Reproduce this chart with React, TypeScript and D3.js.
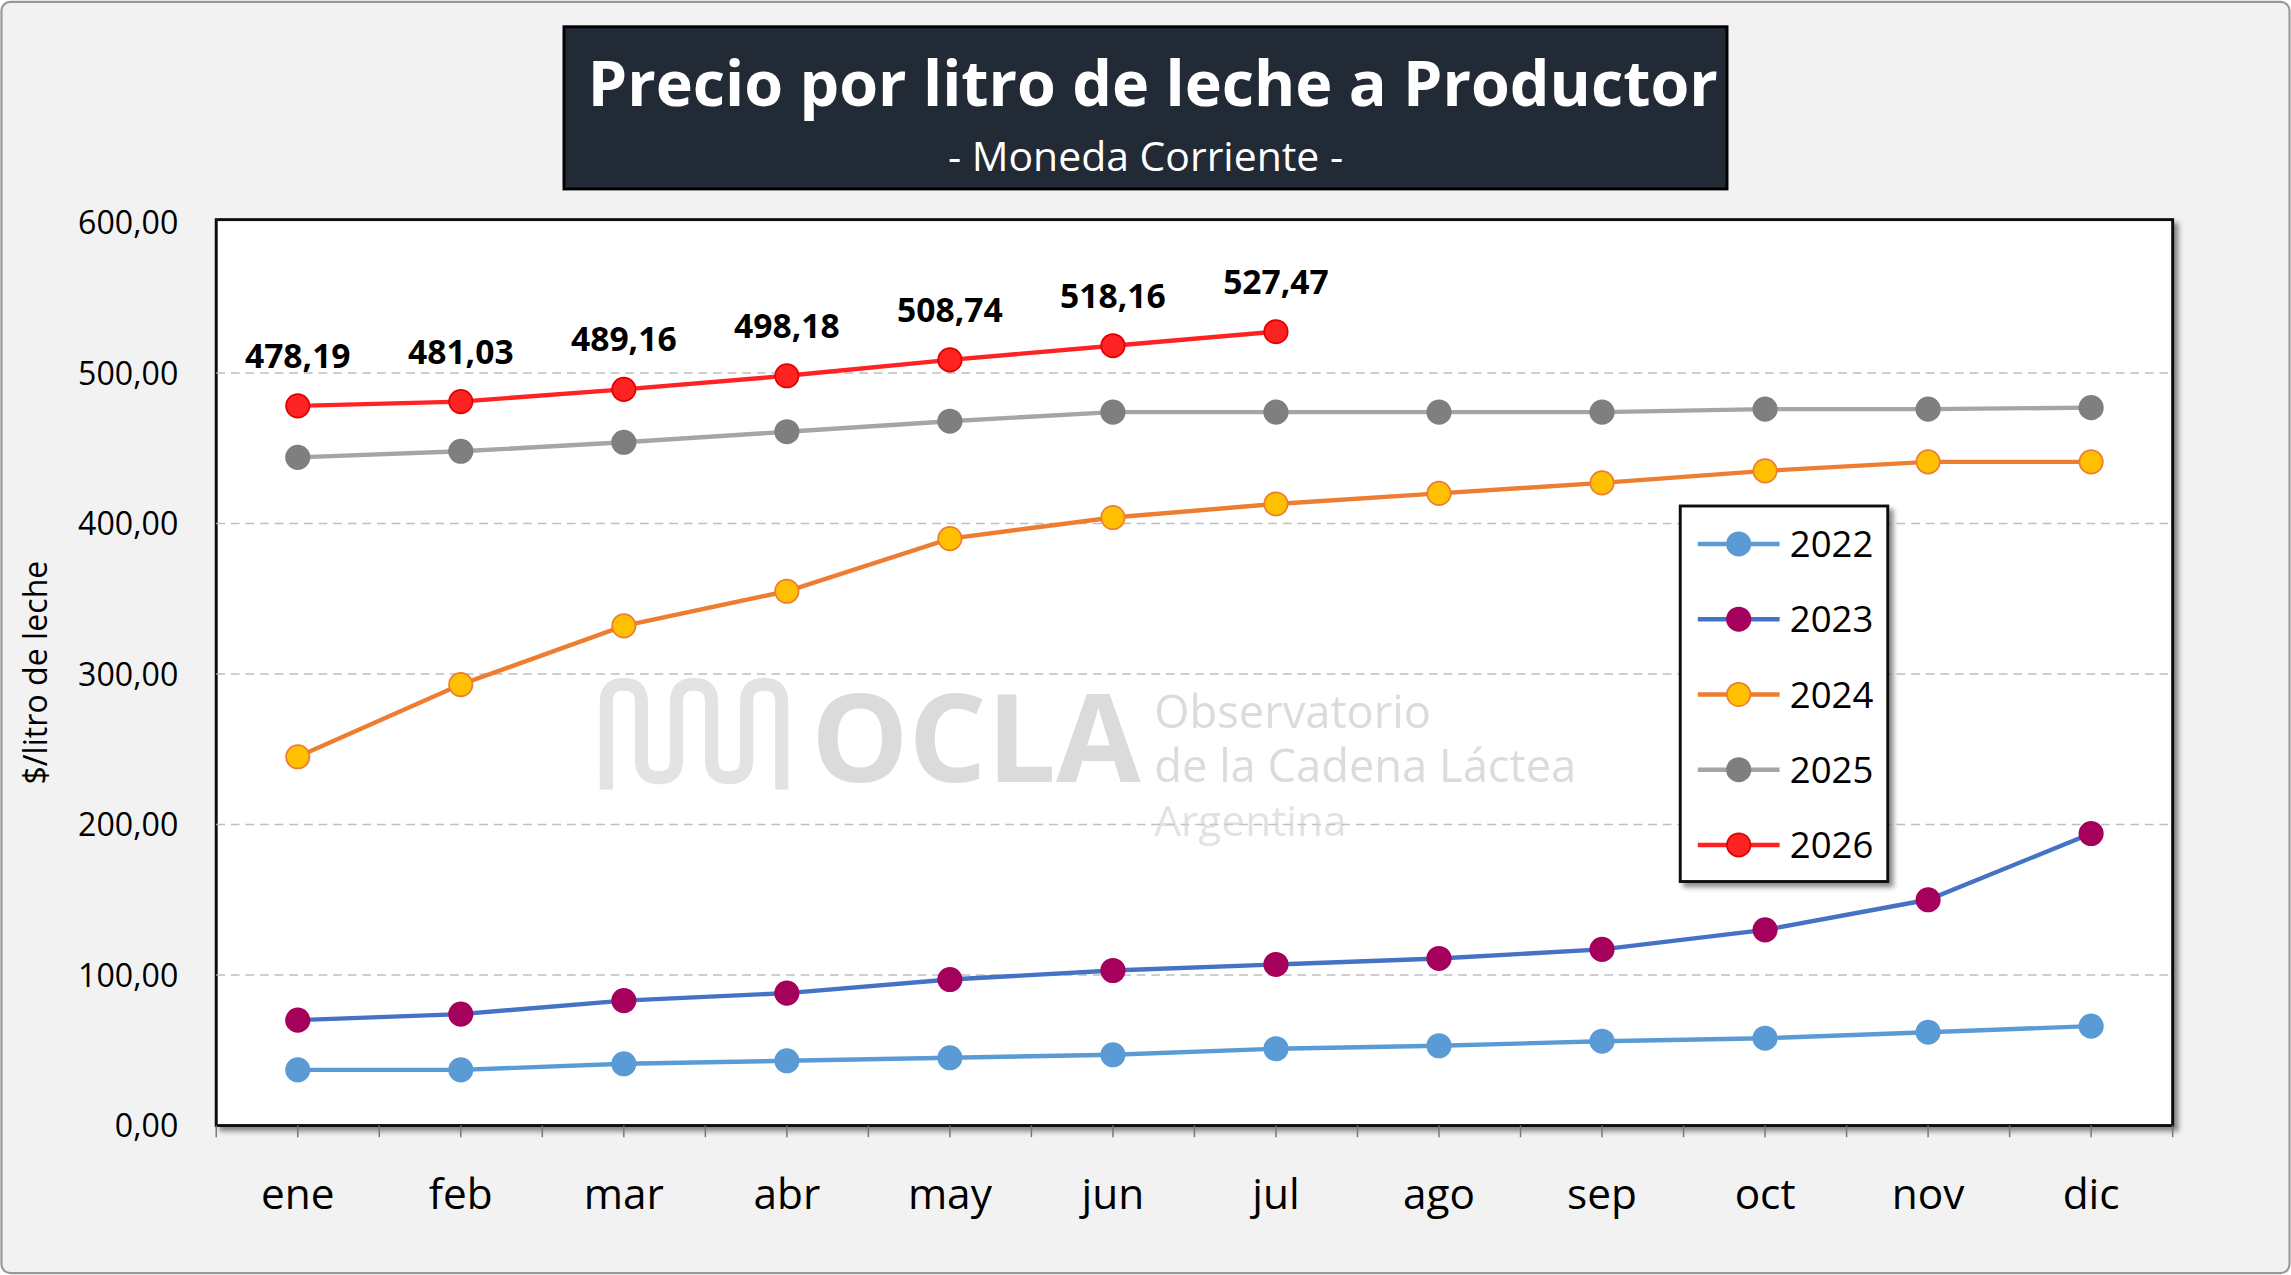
import { useEffect } from 'react';
import * as d3 from 'd3';

const months = ['ene', 'feb', 'mar', 'abr', 'may', 'jun', 'jul', 'ago', 'sep', 'oct', 'nov', 'dic'];
const yTicks = [0, 100, 200, 300, 400, 500, 600];
const s2022 = [37, 37, 41, 43, 45, 47, 51, 53, 56, 58, 62, 66];
const s2023 = [70, 74, 83, 88, 97, 103, 107, 111, 117, 130, 150, 194];
const s2024 = [245, 293, 332, 355, 390, 404, 413, 420, 427, 435, 441, 441];
const s2025 = [444, 448, 454, 461, 468, 474, 474, 474, 474, 476, 476, 477];
const s2026 = [478.19, 481.03, 489.16, 498.18, 508.74, 518.16, 527.47];

const series = [
  { name: '2022', values: s2022, line: '#5b9bd5', fill: '#5b9bd5', stroke: '#5b9bd5' },
  { name: '2023', values: s2023, line: '#4472c4', fill: '#a5005c', stroke: '#a5005c' },
  { name: '2024', values: s2024, line: '#ed7d31', fill: '#ffc000', stroke: '#ed7d31' },
  { name: '2025', values: s2025, line: '#a5a5a5', fill: '#7f7f7f', stroke: '#7f7f7f' },
  { name: '2026', values: s2026, line: '#ff2222', fill: '#ff2222', stroke: '#e00000' },
];

const fmt = (v: number) => v.toFixed(2).replace('.', ',');
const font = '"Open Sans", "Liberation Sans", sans-serif';

const App = () => {
  useEffect(() => {
    document.body.style.margin = '0';
  }, []);

  const left = 148, right = 1487, top = 150, bottom = 770;
  const x = d3.scaleBand<string>().domain(months).range([left, right]);
  const y = d3.scaleLinear().domain([0, 600]).range([bottom, 152]);
  const cx = (i: number) => (x(months[i]) ?? 0) + x.bandwidth() / 2;
  const line = d3.line<number>().x((_, i) => cx(i)).y((d) => y(d));
  const boundaries = d3.range(months.length + 1).map((i) => left + i * x.step());

  // logo: wavy vertical strokes
  const logo = 'M415,540 L415,480 Q415,468 427,468 Q439,468 439,480 L439,520 Q439,532 451,532 Q463,532 463,520 L463,480 Q463,468 475,468 Q487,468 487,480 L487,520 Q487,532 499,532 Q511,532 511,520 L511,480 Q511,468 523,468 Q535,468 535,480 L535,540';

  return (
    <svg width={2291} height={1275} viewBox="0 0 1568 872" style={{ display: 'block', fontFamily: font }}>
      <defs>
        <filter id="sh" x="-20%" y="-20%" width="150%" height="150%">
          <feDropShadow dx="3" dy="3" stdDeviation="2" floodColor="#000" floodOpacity="0.45" />
        </filter>
      </defs>
      <rect x={1} y={1} width={1566} height={870} rx={6} fill="#f2f2f2" stroke="#999" strokeWidth={1.5} />
      <rect x={left} y={top} width={right - left} height={bottom - top} fill="#fff" stroke="#111" strokeWidth={2} filter="url(#sh)" />
      {yTicks.filter((t) => t > 0 && t < 600).map((t) => (
        <line key={t} x1={left} x2={right} y1={y(t)} y2={y(t)} stroke="#bfbfbf" strokeDasharray="6,4" />
      ))}
      {yTicks.map((t) => (
        <text key={t} x={122} y={y(t) + 8} textAnchor="end" fontSize={22} fill="#000">{fmt(t)}</text>
      ))}
      <text transform={`translate(32,${(top + bottom) / 2}) rotate(-90)`} textAnchor="middle" fontSize={22}>$/litro de leche</text>
      {[...boundaries, ...months.map((_, i) => cx(i))].map((bx, i) => (
        <line key={i} x1={bx} x2={bx} y1={bottom} y2={bottom + 8} stroke="#777" />
      ))}
      {months.map((m, i) => (
        <text key={m} x={cx(i)} y={827} textAnchor="middle" fontSize={29}>{m}</text>
      ))}
      <g opacity={0.6}>
        <path d={logo} fill="none" stroke="#d0d0d0" strokeWidth={9} />
        <text x={555} y={535} fontSize={84} fontWeight="bold" fill="#c4c4c4">OCLA</text>
        <text x={790} y={498} fontSize={31} fill="#c4c4c4">Observatorio</text>
        <text x={790} y={535} fontSize={31} fill="#c4c4c4">de la Cadena Láctea</text>
        <text x={790} y={572} fontSize={29} fill="#cfcfcf">Argentina</text>
      </g>
      {series.map((s) => (
        <g key={s.name}>
          <path d={line(s.values) ?? ''} fill="none" stroke={s.line} strokeWidth={3} />
          {s.values.map((v, i) => (
            <circle key={i} cx={cx(i)} cy={y(v)} r={8} fill={s.fill} stroke={s.stroke} strokeWidth={1.2} />
          ))}
        </g>
      ))}
      {s2026.map((v, i) => (
        <text key={i} x={cx(i)} y={y(v) - 26} textAnchor="middle" fontSize={23} fontWeight="bold">{fmt(v)}</text>
      ))}
      <rect x={1150} y={346} width={142} height={257} fill="#fff" stroke="#111" strokeWidth={2} filter="url(#sh)" />
      {series.map((s, i) => {
        const ly = 372 + i * 51.5;
        return (
          <g key={s.name}>
            <line x1={1162} x2={1218} y1={ly} y2={ly} stroke={s.line} strokeWidth={3} />
            <circle cx={1190} cy={ly} r={8} fill={s.fill} stroke={s.stroke} strokeWidth={1.2} />
            <text x={1225} y={ly + 9} fontSize={25}>{s.name}</text>
          </g>
        );
      })}
      <rect x={386} y={18} width={796} height={111} fill="#222a35" stroke="#000" strokeWidth={2} />
      <text x={789} y={72} textAnchor="middle" fontSize={43} fontWeight="bold" fill="#fff">Precio por litro de leche a Productor</text>
      <text x={784} y={117} textAnchor="middle" fontSize={28} fill="#fff">- Moneda  Corriente -</text>
    </svg>
  );
};

export default App;
